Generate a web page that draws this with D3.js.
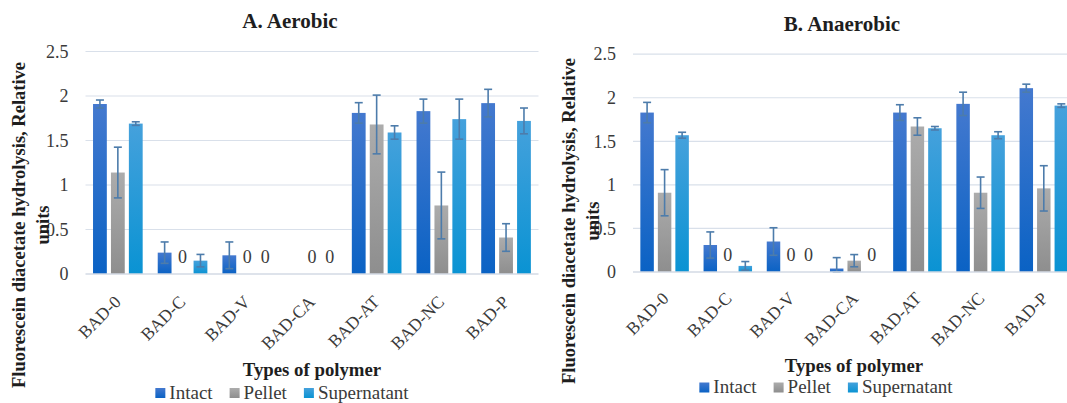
<!DOCTYPE html>
<html>
<head>
<meta charset="utf-8">
<script src="https://cdn.jsdelivr.net/npm/d3@7"></script>
<style>
  html, body { margin: 0; padding: 0; background: #ffffff; }
  svg { display: block; }
</style>
</head>
<body>
<svg id="chart" width="1067" height="403"></svg>
<script>
// ---------- data ----------
const categories = ["BAD-0", "BAD-C", "BAD-V", "BAD-CA", "BAD-AT", "BAD-NC", "BAD-P"];
const seriesNames = ["Intact", "Pellet", "Supernatant"];
const yTicks = [0, 0.5, 1, 1.5, 2, 2.5];

// A. Aerobic (null = no bar, no label)
const aerobicIntact      = [1.91, 0.24, 0.21, null, 1.81, 1.83, 1.92];
const aerobicPellet      = [1.14, 0,    0,    0,    1.68, 0.77, 0.41];
const aerobicSupernatant = [1.69, 0.15, 0,    0,    1.59, 1.74, 1.72];
const aerobicIntactErr      = [0.045, 0.12, 0.15, 0,    0.115, 0.135, 0.155];
const aerobicPelletErr      = [0.285, 0,    0,    0,    0.33,  0.375, 0.155];
const aerobicSupernatantErr = [0.02,  0.07, 0,    0,    0.075, 0.225, 0.145];

// B. Anaerobic
const anaerobicIntact      = [1.83, 0.31, 0.35, 0.04, 1.83, 1.93, 2.11];
const anaerobicPellet      = [0.91, 0,    0,    0.13, 1.67, 0.91, 0.96];
const anaerobicSupernatant = [1.57, 0.07, 0,    0,    1.65, 1.57, 1.91];
const anaerobicIntactErr      = [0.117, 0.15, 0.158, 0.125, 0.09, 0.134, 0.046];
const anaerobicPelletErr      = [0.265, 0,    0,     0.07,  0.10, 0.18,  0.26];
const anaerobicSupernatantErr = [0.034, 0.05, 0,     0,     0.02, 0.04,  0.02];

const yTitleLine1 = "Fluorescein diacetate hydrolysis, Relative";
const yTitleLine2 = "units";
const xTitle = "Types of polymer";

// ---------- styles ----------
const FONT = '"Liberation Serif"';
const gradStops = {
  Intact:      ["#4479cf", "#0a62c4"],
  Pellet:      ["#acacac", "#8e8e8e"],
  Supernatant: ["#45a1dc", "#0a93d3"]
};
const errColor = "#4d7cab";
const gridColor = "#d9e0ea";
const textColor = "#3a3a3a";

const svg = d3.select("#chart").style("font-family", FONT);
const defs = svg.append("defs");
seriesNames.forEach((s, i) => {
  const g = defs.append("linearGradient")
    .attr("id", "grad" + i).attr("x1", 0).attr("y1", 0).attr("x2", 0).attr("y2", 1);
  g.append("stop").attr("offset", "0%").attr("stop-color", gradStops[s][0]);
  g.append("stop").attr("offset", "100%").attr("stop-color", gradStops[s][1]);
});

const panels = [
  {
    title: "A. Aerobic", titleX: 290, titleY: 28,
    plotLeft: 85.5, band: 64.7, gridRight: 538.5, yBottom: 274, yTop: 51.5,
    yT1: 25, yT2: 49, yTC: 225,
    labelDx: 4, labelDy: 29,
    xTitleX: 312, xTitleY: 376,
    legendCX: 282, legendY: 398.5,
    values: [aerobicIntact, aerobicPellet, aerobicSupernatant],
    errors: [aerobicIntactErr, aerobicPelletErr, aerobicSupernatantErr]
  },
  {
    title: "B. Anaerobic", titleX: 842, titleY: 31,
    plotLeft: 633, band: 63.2, gridRight: 1080, yBottom: 272, yTop: 54.2,
    yT1: 575, yT2: 599, yTC: 221,
    labelDx: 5, labelDy: 27.5,
    xTitleX: 854, xTitleY: 372,
    legendCX: 826, legendY: 393,
    values: [anaerobicIntact, anaerobicPellet, anaerobicSupernatant],
    errors: [anaerobicIntactErr, anaerobicPelletErr, anaerobicSupernatantErr]
  }
];

function serif(sel, size, weight) {
  return sel.style("font-family", FONT).style("font-size", size + "px")
    .style("font-weight", weight || "normal");
}

panels.forEach(p => {
  const g = svg.append("g");
  const x = d3.scaleBand().domain(categories)
    .range([p.plotLeft, p.plotLeft + p.band * categories.length])
    .paddingInner(0).paddingOuter(0);
  const xs = d3.scaleBand().domain(seriesNames).range([0, x.bandwidth()])
    .paddingInner(0.23).paddingOuter(0.42);
  const y = d3.scaleLinear().domain([0, 2.5]).range([p.yBottom, p.yTop]);

  // gridlines
  g.append("g").selectAll("line").data(yTicks.filter(t => t > 0)).join("line")
    .attr("x1", p.plotLeft).attr("x2", p.gridRight)
    .attr("y1", d => y(d)).attr("y2", d => y(d))
    .attr("stroke", gridColor).attr("stroke-width", 1.2);

  // y tick labels
  const yAxis = d3.axisLeft(y).tickValues(yTicks).tickSize(0).tickPadding(17)
    .tickFormat(d => String(d));
  const ya = g.append("g").attr("transform", `translate(${p.plotLeft},0)`).call(yAxis)
    .attr("font-family", null).attr("font-size", null);
  ya.select(".domain").remove();
  serif(ya.selectAll("text"), 18).attr("fill", textColor);

  // bars
  seriesNames.forEach((s, si) => {
    const vals = p.values[si];
    const errs = p.errors[si];
    const rows = categories.map((c, ci) => ({ c, v: vals[ci], e: errs[ci] }));
    g.append("g").selectAll("rect").data(rows.filter(r => r.v !== null && r.v > 0)).join("rect")
      .attr("x", r => x(r.c) + xs(s))
      .attr("width", xs.bandwidth())
      .attr("y", r => y(r.v))
      .attr("height", r => y(0) - y(r.v))
      .attr("fill", `url(#grad${si})`);

    // zero labels
    serif(g.append("g").selectAll("text").data(rows.filter(r => r.v === 0)).join("text"), 18)
      .attr("x", r => x(r.c) + xs(s) + xs.bandwidth() / 2)
      .attr("y", y(0) - 11)
      .attr("text-anchor", "middle")
      .attr("fill", textColor)
      .text(r => String(r.v));

    // error bars
    const eb = g.append("g").selectAll("g")
      .data(rows.filter(r => r.v !== null && r.e > 0)).join("g")
      .attr("stroke", errColor).attr("stroke-width", 1.6).attr("fill", "none");
    const cx = r => x(r.c) + xs(s) + xs.bandwidth() / 2;
    eb.append("line")
      .attr("x1", cx).attr("x2", cx)
      .attr("y1", r => y(r.v + r.e)).attr("y2", r => y(Math.max(0, r.v - r.e)));
    eb.append("line")
      .attr("x1", r => cx(r) - 4).attr("x2", r => cx(r) + 4)
      .attr("y1", r => y(r.v + r.e)).attr("y2", r => y(r.v + r.e));
    eb.append("line")
      .attr("x1", r => cx(r) - 4).attr("x2", r => cx(r) + 4)
      .attr("y1", r => y(Math.max(0, r.v - r.e))).attr("y2", r => y(Math.max(0, r.v - r.e)));
  });

  // x axis baseline
  g.append("line")
    .attr("x1", p.plotLeft).attr("x2", p.gridRight)
    .attr("y1", y(0)).attr("y2", y(0))
    .attr("stroke", "#d3dae5").attr("stroke-width", 1.5);

  // x tick labels
  const xAxis = d3.axisBottom(x).tickSize(0);
  const xa = g.append("g").attr("transform", `translate(0,${p.yBottom})`).call(xAxis)
    .attr("font-family", null).attr("font-size", null);
  xa.select(".domain").remove();
  serif(xa.selectAll("text"), 17.5)
    .attr("x", null).attr("y", null).attr("dy", null)
    .attr("text-anchor", "end")
    .attr("transform", `translate(${p.labelDx},${p.labelDy}) rotate(-45)`)
    .attr("fill", textColor);

  // chart title
  serif(g.append("text"), 21, "bold").attr("x", p.titleX).attr("y", p.titleY)
    .attr("text-anchor", "middle").attr("fill", "#1e1e1e").text(p.title);

  // y axis title (two lines)
  serif(g.append("text"), 18.5, "bold").attr("transform", `translate(${p.yT1},${p.yTC}) rotate(-90)`)
    .attr("text-anchor", "middle").attr("fill", "#1e1e1e").text(yTitleLine1);
  serif(g.append("text"), 18.5, "bold").attr("transform", `translate(${p.yT2},${p.yTC}) rotate(-90)`)
    .attr("text-anchor", "middle").attr("fill", "#1e1e1e").text(yTitleLine2);

  // x axis title
  serif(g.append("text"), 18.8, "bold").attr("x", p.xTitleX).attr("y", p.xTitleY)
    .attr("text-anchor", "middle").attr("fill", "#1e1e1e").text(xTitle);

  // legend
  const lg = g.append("g");
  const items = seriesNames.map((s, i) => {
    const it = lg.append("g");
    it.append("rect").attr("width", 10).attr("height", 10).attr("y", -10.5)
      .attr("fill", `url(#grad${i})`);
    const t = serif(it.append("text"), 19).attr("x", 14)
      .attr("fill", textColor).text(s);
    return { it, w: 14 + t.node().getComputedTextLength() };
  });
  const gap = 17;
  const total = d3.sum(items, d => d.w) + gap * (items.length - 1);
  let cur = p.legendCX - total / 2;
  items.forEach(d => {
    d.it.attr("transform", `translate(${cur},${p.legendY})`);
    cur += d.w + gap;
  });
});
</script>
</body>
</html>
